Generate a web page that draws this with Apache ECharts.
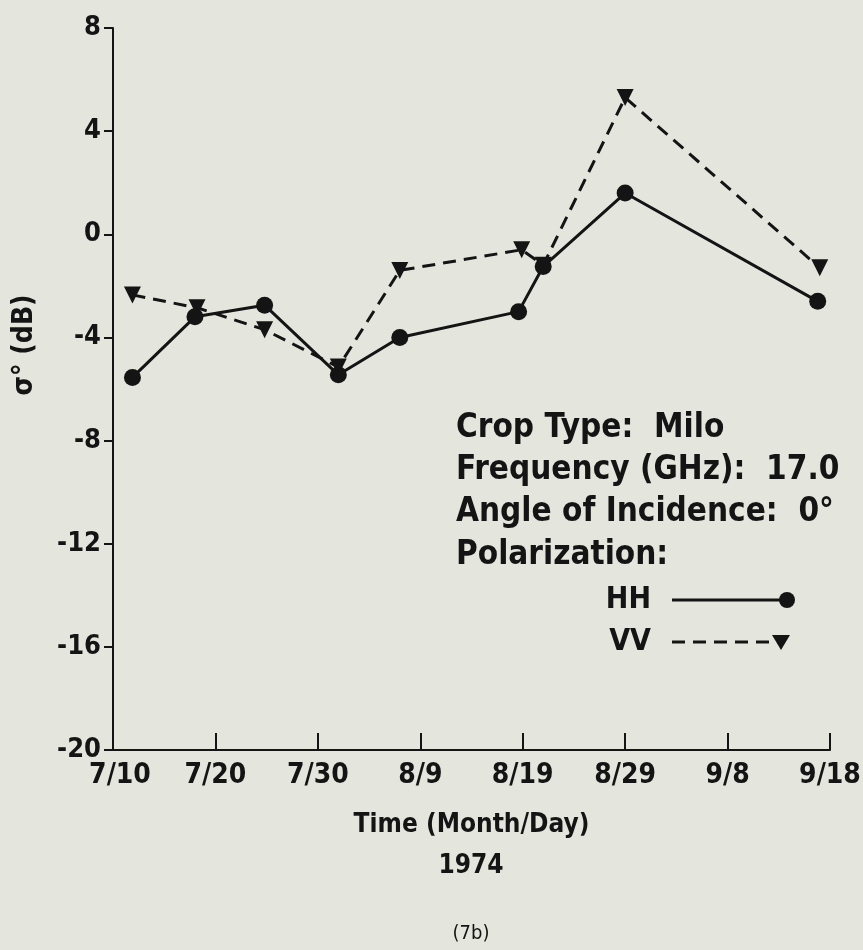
<!DOCTYPE html>
<html>
<head>
<meta charset="utf-8">
<script src="https://cdn.jsdelivr.net/npm/echarts@6/dist/echarts.min.js"></script>
<style>
  html, body { margin: 0; padding: 0; background: #e4e5dd; }
  #chart { width: 863px; height: 950px; }
</style>
</head>
<body>
<div id="chart"></div>
<script>
// days counted from 7/10 (1974)
var tickLabels = ['7/10', '7/20', '7/30', '8/9', '8/19', '8/29', '9/8', '9/18'];
var hhDays = [1.9, 8, 14.8, 22, 28, 39.6, 42, 50, 68.8];
var hhValues = [-5.55, -3.2, -2.75, -5.45, -4.0, -3.0, -1.25, 1.6, -2.6];
var vvDays = [1.9, 8.2, 14.8, 22, 28, 39.9, 42, 50, 69];
var vvValues = [-2.35, -2.85, -3.7, -5.15, -1.4, -0.6, -1.2, 5.3, -1.3];

var font = '"DejaVu Sans Condensed", sans-serif';
var ink = '#141414';

function pairs(xs, ys) {
    var out = [];
    for (var i = 0; i < xs.length; i++) out.push([xs[i], ys[i]]);
    return out;
}

var chart = echarts.init(document.getElementById('chart'));
var option = {
    backgroundColor: '#e4e5dd',
    animation: false,
    grid: { left: 113, right: 33, top: 28, bottom: 200, outerBoundsMode: 'none' },
    xAxis: {
        type: 'value',
        min: 0, max: 70, interval: 10,
        name: 'Time (Month/Day)',
        nameLocation: 'middle',
        nameGap: 62,
        nameTextStyle: { fontFamily: font, fontWeight: 'bold', fontSize: 26, color: ink },
        axisLine: { onZero: false, lineStyle: { color: ink, width: 2 } },
        axisTick: { inside: true, length: 17, lineStyle: { color: ink, width: 2 } },
        splitLine: { show: false },
        axisLabel: {
            margin: 12,
            fontFamily: font, fontWeight: 'bold', fontSize: 28, color: ink,
            formatter: function (v) {
                var s = tickLabels[Math.round(v / 10)];
                return v === 0 ? '{first|' + s + '}' : s;
            },
            rich: { first: { fontFamily: font, fontWeight: 'bold', fontSize: 28, color: ink, padding: [0, 0, 0, 14] } }
        }
    },
    yAxis: {
        type: 'value',
        min: -20, max: 8, interval: 4,
        axisLine: { show: true, onZero: false, lineStyle: { color: ink, width: 2 } },
        axisTick: { show: true, length: 9, lineStyle: { color: ink, width: 2 } },
        splitLine: { show: false },
        axisLabel: { margin: 12, fontFamily: font, fontWeight: 'bold', fontSize: 27, color: ink }
    },
    series: [
        {
            name: 'VV',
            type: 'line',
            data: pairs(vvDays, vvValues),
            symbol: 'triangle',
            symbolRotate: 180,
            symbolSize: 17,
            lineStyle: { color: ink, width: 3, type: [13, 8] },
            itemStyle: { color: ink }
        },
        {
            name: 'HH',
            type: 'line',
            data: pairs(hhDays, hhValues),
            symbol: 'circle',
            symbolSize: 17,
            lineStyle: { color: ink, width: 3 },
            itemStyle: { color: ink }
        }
    ],
    graphic: [
        { type: 'text', x: 25, y: 345, rotation: Math.PI / 2,
          style: { text: 'σ° (dB)', fontFamily: font, fontWeight: 'bold', fontSize: 28, fill: ink, align: 'center', verticalAlign: 'middle' } },
        { type: 'text', x: 471, y: 866,
          style: { text: '1974', fontFamily: font, fontWeight: 'bold', fontSize: 26, fill: ink, align: 'center', verticalAlign: 'middle' } },
        { type: 'text', x: 471, y: 934,
          style: { text: '(7b)', fontFamily: font, fontSize: 20, fill: ink, align: 'center', verticalAlign: 'middle' } },
        { type: 'text', x: 456, y: 428,
          style: { text: 'Crop Type:  Milo', fontFamily: font, fontWeight: 'bold', fontSize: 33, fill: ink, verticalAlign: 'middle' } },
        { type: 'text', x: 456, y: 470,
          style: { text: 'Frequency (GHz):  17.0', fontFamily: font, fontWeight: 'bold', fontSize: 33, fill: ink, verticalAlign: 'middle' } },
        { type: 'text', x: 456, y: 512,
          style: { text: 'Angle of Incidence:  0°', fontFamily: font, fontWeight: 'bold', fontSize: 33, fill: ink, verticalAlign: 'middle' } },
        { type: 'text', x: 456, y: 555,
          style: { text: 'Polarization:', fontFamily: font, fontWeight: 'bold', fontSize: 33, fill: ink, verticalAlign: 'middle' } },
        { type: 'text', x: 651, y: 600,
          style: { text: 'HH', fontFamily: font, fontWeight: 'bold', fontSize: 30, fill: ink, align: 'right', verticalAlign: 'middle' } },
        { type: 'line', shape: { x1: 672, y1: 600, x2: 786, y2: 600 }, style: { stroke: ink, lineWidth: 3 } },
        { type: 'circle', shape: { cx: 787, cy: 600, r: 8 }, style: { fill: ink } },
        { type: 'text', x: 651, y: 642,
          style: { text: 'VV', fontFamily: font, fontWeight: 'bold', fontSize: 30, fill: ink, align: 'right', verticalAlign: 'middle' } },
        { type: 'line', shape: { x1: 672, y1: 642, x2: 778, y2: 642 }, style: { stroke: ink, lineWidth: 3, lineDash: [13, 8] } },
        { type: 'polygon', shape: { points: [[772, 635], [790, 635], [781, 650]] }, style: { fill: ink } }
    ]
};
chart.setOption(option);
window.onresize = chart.resize;
</script>
</body>
</html>
